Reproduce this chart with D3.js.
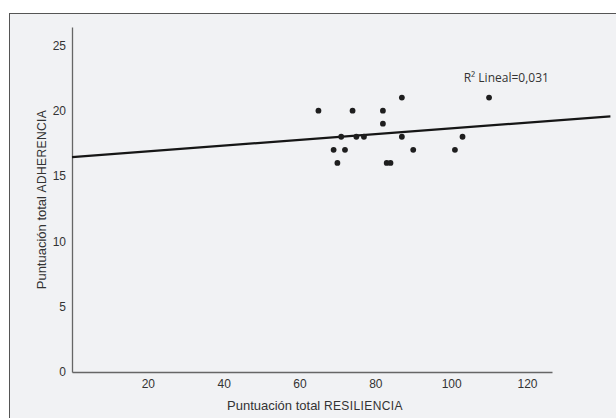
<!DOCTYPE html>
<html>
<head>
<meta charset="utf-8">
<script src="https://cdn.jsdelivr.net/npm/d3@7"></script>
<style>
  html, body { margin: 0; padding: 0; background: #fff; }
  svg { display: block; }
</style>
</head>
<body>
<div id="chart"></div>
<script>
// resiliencia (x) vs adherencia (y), one dot per patient
const resiliencia = [65, 74, 82, 87, 82, 71, 75, 77, 87, 69, 72, 90, 70, 83, 84, 110, 103, 101]
const adherencia  = [20, 20, 20, 21, 19, 18, 18, 18, 18, 17, 17, 17, 16, 16, 16, 21, 18, 17]
const xTicks = [20, 40, 60, 80, 100, 120]
const yTicks = [0, 5, 10, 15, 20, 25]
// fitted line (SPSS "R² Lineal")
const fitIntercept = 16.44
const fitSlope = 0.022
const fitLabel = "R² Lineal=0,031"

const width = 616, height = 418
const margin = { top: 27, right: 64, bottom: 46, left: 72 }

const svg = d3.select("#chart").append("svg")
  .attr("width", width).attr("height", height)

// panel background + frame (open at right/bottom, as in the source crop)
svg.append("rect")
  .attr("x", 9.5).attr("y", 13.5)
  .attr("width", width).attr("height", height)
  .attr("fill", "#f1f2f4")
  .attr("stroke", "#555").attr("stroke-width", 1)

const x = d3.scaleLinear().domain([0, 126.6]).range([margin.left, width - margin.right])
const y = d3.scaleLinear().domain([0, 26.4]).range([height - margin.bottom, margin.top])

const tickFont = "'Liberation Sans Narrow', 'Arial Narrow', sans-serif"

// x axis
const xAxis = svg.append("g")
  .attr("transform", `translate(0,${y(0)})`)
  .call(d3.axisBottom(x).tickValues(xTicks).tickSize(0).tickPadding(7))
xAxis.select(".domain").attr("stroke", "#666").attr("stroke-width", 1.3)
xAxis.selectAll("text")
  .attr("font-family", tickFont).attr("font-size", 12).attr("fill", "#333")

// y axis
const yAxis = svg.append("g")
  .attr("transform", `translate(${x(0)},0)`)
  .call(d3.axisLeft(y).tickValues(yTicks).tickSize(0).tickPadding(6))
yAxis.select(".domain").attr("stroke", "#666").attr("stroke-width", 1.3)
yAxis.selectAll("text")
  .attr("font-family", tickFont).attr("font-size", 12).attr("fill", "#333")

// fit line, runs past the end of the x axis to the panel edge
const lineEnd = 142
svg.append("line")
  .attr("x1", x(0)).attr("y1", y(fitIntercept))
  .attr("x2", x(lineEnd)).attr("y2", y(fitIntercept + fitSlope * lineEnd))
  .attr("stroke", "#161616").attr("stroke-width", 2.2)

// points
svg.append("g").selectAll("circle")
  .data(resiliencia.map((v, i) => [v, adherencia[i]]))
  .join("circle")
  .attr("cx", d => x(d[0])).attr("cy", d => y(d[1]))
  .attr("r", 2.9)
  .attr("fill", "#1e1e1e")

svg.append("text")
  .attr("x", x(103.3)).attr("y", y(22.2))
  .attr("font-family", "'Open Sans', sans-serif").attr("font-size", 12)
  .attr("fill", "#333")
  .text(fitLabel)

// axis titles
const xt = svg.append("text")
  .attr("x", (x.range()[0] + x.range()[1]) / 2 + 3).attr("y", 410)
  .attr("text-anchor", "middle").attr("fill", "#333")
xt.append("tspan").attr("font-family", tickFont).attr("font-size", 13)
  .text("Puntuación total ")
xt.append("tspan").attr("font-family", "'Liberation Sans', sans-serif").attr("font-size", 12)
  .attr("letter-spacing", 0.4).text("RESILIENCIA")

const yt = svg.append("text")
  .attr("transform", `translate(46,${(y.range()[0] + y.range()[1]) / 2}) rotate(-90)`)
  .attr("text-anchor", "middle").attr("fill", "#333")
yt.append("tspan").attr("font-family", tickFont).attr("font-size", 13)
  .text("Puntuación total ")
yt.append("tspan").attr("font-family", "'Liberation Sans', sans-serif").attr("font-size", 12)
  .attr("letter-spacing", 0.4).text("ADHERENCIA")
</script>
</body>
</html>
